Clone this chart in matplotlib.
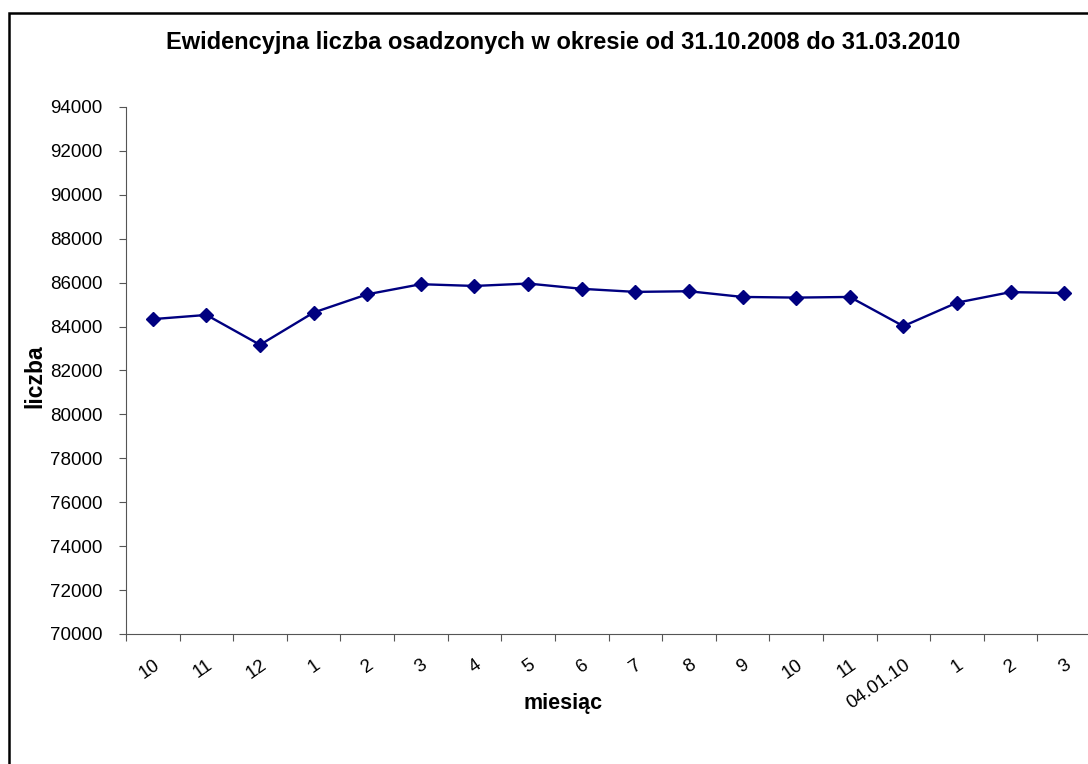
import matplotlib.pyplot as plt
import matplotlib.patches as patches
import numpy as np

plt.rcParams['font.family'] = ['Liberation Sans', 'DejaVu Sans']

# data
months = ['10', '11', '12', '1', '2', '3', '4', '5', '6', '7', '8', '9',
          '10', '11', '04.01.10', '1', '2', '3']
counts = [84340, 84530, 83170, 84640, 85470, 85930, 85850, 85960, 85720,
          85580, 85610, 85350, 85320, 85350, 84020, 85090, 85570, 85530]

fig = plt.figure(figsize=(10.88, 7.64), dpi=100)
ax = fig.add_axes([126 / 1088, 1 - 634 / 764, (1091 - 126) / 1088, (634 - 107) / 764])

x = np.arange(len(months))
ax.plot(x, counts, color='#000080', linewidth=1.7, marker='D', markersize=7.5)

ax.set_xlim(-0.5, len(months) - 0.5)
ax.set_ylim(70000, 94000)
ax.set_yticks(np.arange(70000, 94001, 2000))

# ticks on category boundaries, labels in the middle
ax.set_xticks(np.arange(-0.5, len(months), 1.0))
ax.set_xticklabels([])
ax.set_xticks(x, minor=True)
ax.set_xticklabels(months, minor=True, rotation=35, ha='right', rotation_mode='anchor')
ax.tick_params(axis='x', which='minor', length=0, pad=16, labelsize=13.5)
ax.tick_params(axis='x', which='major', length=5, color='#555555')
ax.tick_params(axis='y', length=5, pad=12, labelsize=13.5, color='#555555')

ax.spines['top'].set_visible(False)
ax.spines['right'].set_visible(False)
ax.spines['left'].set_color('#555555')
ax.spines['bottom'].set_color('#555555')

fig.text(563 / 1088, 1 - 42 / 764, 'Ewidencyjna liczba osadzonych w okresie od 31.10.2008 do 31.03.2010',
         ha='center', va='center', fontsize=17, fontweight='bold')
fig.text(563 / 1088, 1 - 703 / 764, 'miesiąc', ha='center', va='center', fontsize=15.5, fontweight='bold')
fig.text(35 / 1088, 1 - 376 / 764, 'liczba', ha='center', va='center', fontsize=16.5,
         fontweight='bold', rotation=90)

# border around the chart area
fig.patches.append(patches.Rectangle((9 / 1088, -0.1), 1.2, 1.1 - 13 / 764, transform=fig.transFigure,
                                     fill=False, edgecolor='black', linewidth=1.8, clip_on=False))

fig.savefig('out.png', dpi=100)
